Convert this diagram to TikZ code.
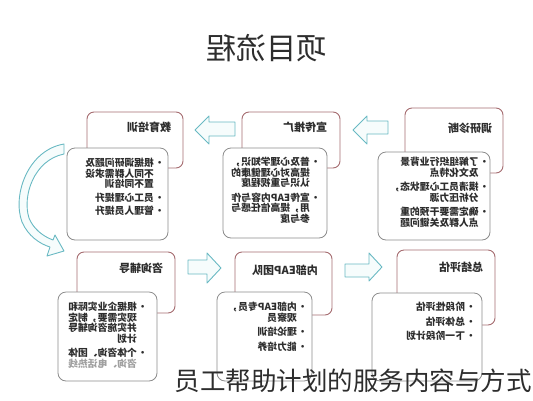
\documentclass[tikz,border=0pt]{standalone}
\usepackage{fontspec}
\usepackage{xcolor}
\setmainfont{Noto Sans CJK SC}
\definecolor{boxrose}{RGB}{165,108,112}
\definecolor{boxgray}{RGB}{140,140,140}
\definecolor{arrowteal}{RGB}{105,185,195}
\definecolor{arrowfill}{RGB}{246,252,252}
\definecolor{textdark}{RGB}{45,45,45}
\newcommand{\blt}{\makebox[1.1em][l]{•}}
\newcommand{\ind}{\hspace*{1.1em}}

\begin{document}
\begin{tikzpicture}[x=1pt,y=-1pt,
    titlebox/.style={draw=boxrose, line width=0.9pt, rounded corners=7pt, fill=white},
    itembox/.style={draw=boxgray, line width=0.8pt, rounded corners=8pt, fill=white},
    blockarrow/.style={draw=arrowteal, line width=0.9pt, fill=arrowfill, line join=round},
    headtext/.style={xscale=-1, font=\bfseries\fontsize{11}{13}\selectfont, text=textdark},
    itemtext/.style={xscale=-1, anchor=north, align=left, inner sep=0pt,
        font=\bfseries\fontsize{9.8}{10.5}\selectfont, text=textdark}]
    \useasboundingbox (0,0) rectangle (533,400);

    \node[xscale=-1, font=\fontsize{30}{32}\selectfont, text=textdark] (title) at (266,48) {项目流程};

    % top row
    \draw[titlebox] (87,112) rectangle (183,168);
    \node[headtext] (jy) at (149,127) {教育培训};
    \draw[itembox] (67,148) rectangle (168,240);
    \node[itemtext] (jyt) at (125,158) {\blt 根据调研问题及\\\ind 不同人群需求设\\\ind 置不同培训\\[3pt]
        \blt 员工心理提升\\[3pt]\blt 管理人员提升};

    \draw[titlebox] (242,112) rectangle (340,168);
    \node[headtext] (xc) at (305,127) {宣传推广};
    \draw[itembox] (223,148) rectangle (327,238);
    \node[itemtext] (xct) at (276,157) {\blt 普及心理学知识，\\\ind 提高对心理健康的\\\ind 认识与重视程度\\[4pt]
        \blt 宣传EAP内容与作\\\ind 用，提高信任感与\\\ind 参与度};

    \draw[titlebox] (405,108) rectangle (503,173);
    \node[headtext] (dy) at (470,128) {调研诊断};
    \draw[itembox] (378,152) rectangle (490,240);
    \node[itemtext] (dyt) at (440,157) {\blt 了解组织行业背景\\\ind 及文化特点\\[4pt]
        \blt 摸清员工心理状态，\\\ind 分析压力源\\[4pt]
        \blt 确定需要干预的重\\\ind 点人群及关键问题};

    % bottom row
    \draw[titlebox] (77,252) rectangle (175,313);
    \node[headtext] (zx) at (141,268) {咨询辅导};
    \draw[itembox] (58,292) rectangle (157,381);
    \node[itemtext] (zxt) at (108,302) {\blt 根据企业实际和\\\ind 现实需要，制定\\\ind 并实施咨询辅导\\\ind 计划\\[4pt]
        \blt 个体咨询、团体\\\ind\textcolor{textdark!45}{咨询、电话热线}};

    \draw[titlebox] (235,252) rectangle (332,315);
    \node[headtext] (nb) at (285,270) {内部EAP团队};
    \draw[itembox] (217,292) rectangle (312,381);
    \node[itemtext] (nbt) at (268,302) {\blt 内部EAP专员，\\\ind 观察员\\[4pt]\blt 理论培训\\[4pt]\blt 能力培养};

    \draw[titlebox] (397,250) rectangle (495,325);
    \node[headtext] (zj) at (461,267) {总结评估};
    \draw[itembox] (372,293) rectangle (482,381);
    \node[itemtext] (zjt) at (441,302) {\blt 阶段性评估\\[4pt]\blt 总体评估\\[4pt]\blt 下一阶段计划};

    % block arrows
    \draw[blockarrow] (235,122) -- (209,122) -- (209,116) -- (195,130) -- (209,144) -- (209,136) -- (235,136) -- cycle;
    \draw[blockarrow] (388,121) -- (367,121) -- (367,116) -- (353,130) -- (367,144) -- (367,134) -- (388,134) -- cycle;
    \draw[blockarrow] (188,260) -- (207,260) -- (207,253) -- (221,268) -- (207,283) -- (207,274) -- (188,274) -- cycle;
    \draw[blockarrow] (345,264) -- (369,264) -- (369,253) -- (382,267) -- (369,281) -- (369,277) -- (345,277) -- cycle;

    % curved arrow
    \draw[blockarrow] (64,144) .. controls (28,150) and (12,195) .. (22,222)
        .. controls (28,236) and (40,244) .. (50,247) -- (47,256) -- (64,251) -- (55,235) -- (53,240)
        .. controls (42,236) and (33,228) .. (29,218) .. controls (22,196) and (34,160) .. (64,154) -- cycle;

    \node[font=\fontsize{25.5}{27}\selectfont, text=textdark] (cap) at (353,381) {员工帮助计划的服务内容与方式};
\end{tikzpicture}
\end{document}
